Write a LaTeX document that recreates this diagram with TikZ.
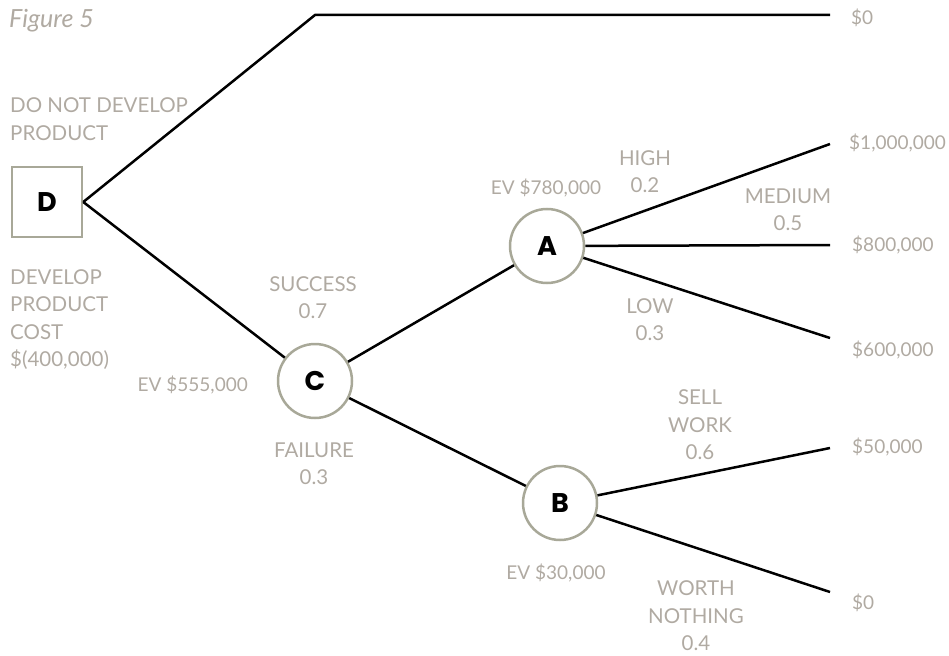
\documentclass[tikz,border=0pt]{standalone}
\usepackage{fontspec}
\newfontfamily\lblfont{Lato}
\newfontfamily\nodefont{Poppins}
\definecolor{lblgray}{RGB}{176,170,162}
\definecolor{strk}{RGB}{168,168,152}
\tikzset{
  lbl/.style={text=lblgray, font=\lblfont\fontsize{20.5}{27.5}\selectfont, inner sep=0pt},
  lbln/.style={lbl, font=\lblfont\fontsize{19}{27.5}\selectfont},
  lblc/.style={lbl, align=center},
  lbll/.style={lbl, align=left, anchor=west},
  val/.style={lbln, anchor=west},
  chance/.style={circle, draw=strk, line width=2.5pt, minimum size=74pt, inner sep=0pt, fill=white,
    font=\nodefont\bfseries\fontsize{27}{27}\selectfont},
  decision/.style={rectangle, draw=strk, line width=2.5pt, minimum size=70pt, inner sep=0pt, fill=white,
    font=\nodefont\bfseries\fontsize{27}{27}\selectfont},
  branch/.style={line width=2.5pt, black}
}
\begin{document}
\begin{tikzpicture}[x=1pt,y=-1pt]
\useasboundingbox (0,0) rectangle (949,655);
% coordinates
\coordinate (k) at (315,15);
\coordinate (e0) at (830,15);
\coordinate (e1) at (830,144);
\coordinate (e2) at (830,245);
\coordinate (e3) at (830,338);
\coordinate (e4) at (830,448);
\coordinate (e5) at (830,592);
% nodes
\node[decision] (D) at (47,202) {D};
\node[chance] (C) at (315,381) {C};
\node[chance] (A) at (547,246) {A};
\node[chance] (B) at (560,503) {B};
% branches
\draw[branch, line join=miter] (D.east) -- (k) -- (e0);
\draw[branch] (D.east) -- (C);
\draw[branch] (C) -- (A);
\draw[branch] (C) -- (B);
\draw[branch] (A) -- (e1);
\draw[branch] (A) -- (e2);
\draw[branch] (A) -- (e3);
\draw[branch] (B) -- (e4);
\draw[branch] (B) -- (e5);
% labels
\node[lbl, anchor=west, font=\lblfont\itshape\fontsize{25}{28}\selectfont] (fig) at (9,21) {Figure 5};
\node[lbll] (dnd) at (10,119) {DO NOT DEVELOP\\PRODUCT};
\node[lbll] (dev) at (10,319.5) {DEVELOP\\PRODUCT\\COST\\\$(400,000)};
\node[lbln, anchor=east] (evc) at (248,385) {EV \$555,000};
\node[lblc] (succ) at (313,297.5) {SUCCESS\\0.7};
\node[lblc] (fail) at (314,463.5) {FAILURE\\0.3};
\node[lbln] (eva) at (546,188) {EV \$780,000};
\node[lblc] (high) at (645,171.5) {HIGH\\0.2};
\node[lblc] (med) at (788,209.5) {MEDIUM\\0.5};
\node[lblc] (low) at (650,319.5) {LOW\\0.3};
\node[lblc] (sell) at (700,425) {SELL\\WORK\\0.6};
\node[lbln] (evb) at (556,573) {EV \$30,000};
\node[lblc] (worth) at (696,616) {WORTH\\NOTHING\\0.4};
\node[val] (v0) at (851,18) {\$0};
\node[val] (v1) at (849,143) {\$1,000,000};
\node[val] (v2) at (852,245) {\$800,000};
\node[val] (v3) at (852,350) {\$600,000};
\node[val] (v4) at (852,447) {\$50,000};
\node[val] (v5) at (852,603) {\$0};
\end{tikzpicture}
\end{document}
